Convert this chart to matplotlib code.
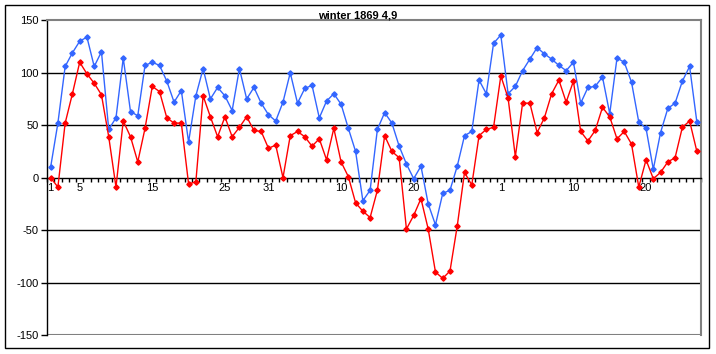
import numpy as np
import matplotlib
matplotlib.use('Agg')
import matplotlib.pyplot as plt
from matplotlib.patches import Rectangle

plt.rcParams['font.family'] = ['Liberation Sans', 'DejaVu Sans']
plt.rcParams['axes.unicode_minus'] = False

# data, one value per day (90 days)
blue = [10, 52, 106, 119, 130, 134, 106, 120, 46, 57,
        114, 63, 59, 107, 110, 107, 92, 72, 83, 34,
        78, 104, 75, 86, 78, 64, 104, 75, 86, 71,
        60, 54, 72, 100, 71, 85, 88, 57, 73, 80,
        70, 47, 25, -22, -12, 46, 62, 52, 30, 13,
        -1, 11, -25, -45, -15, -12, 11, 40, 44, 93,
        80, 128, 136, 80, 87, 102, 113, 124, 118, 113,
        107, 102, 110, 71, 86, 87, 96, 61, 114, 110,
        91, 53, 47, 8, 43, 66, 71, 92, 106, 53]
red = [0, -9, 52, 80, 110, 99, 90, 79, 39, -9,
       54, 39, 15, 47, 87, 82, 57, 52, 52, -6,
       -4, 78, 58, 39, 58, 39, 48, 58, 45, 44,
       28, 31, 0, 40, 44, 39, 30, 37, 17, 47,
       15, 1, -24, -32, -38, -12, 40, 25, 19, -49,
       -36, -20, -49, -90, -96, -89, -46, 5, -7, 40,
       46, 48, 97, 76, 20, 71, 71, 43, 57, 80,
       93, 72, 92, 44, 35, 45, 67, 58, 37, 44,
       32, -9, 17, -1, 5, 15, 19, 48, 54, 25]

label_pos = [0, 4, 14, 24, 30, 40, 50, 62, 72, 82]
label_txt = ['1', '5', '15', '25', '31', '10', '20', '1', '10', '20']

W, H = 716, 354
fig = plt.figure(figsize=(W / 100, H / 100), dpi=100)
fig.patch.set_facecolor('white')

# outer frame
fig.add_artist(Rectangle((5 / W, 1 - 348 / H), 704 / W, 343 / H, transform=fig.transFigure,
                         fill=False, edgecolor='black', lw=1))

left, right, top, bottom = 47, 700.5, 20.3, 335
ax = fig.add_axes([left / W, 1 - bottom / H, (right - left) / W, (bottom - top) / H])

x = np.arange(len(blue))
ax.plot(x, blue, color='#3366ff', lw=1, marker='D', ms=2.7, zorder=3)
ax.plot(x, red, color='#ff0000', lw=1, marker='D', ms=2.7, zorder=4)

ax.set_xlim(-0.5, len(blue) - 0.5)
ax.set_ylim(-150, 150)

for g in [-100, -50, 50, 100]:
    ax.axhline(g, color='black', lw=1, zorder=1)
ax.axhline(-150, color='#808080', lw=1.5, zorder=1)

for s in ['top', 'right']:
    ax.spines[s].set_color('#808080')
    ax.spines[s].set_linewidth(1.5)
ax.spines['left'].set_color('black')
ax.spines['left'].set_linewidth(1)
ax.spines['bottom'].set_position(('data', 0))
ax.spines['bottom'].set_color('black')
ax.spines['bottom'].set_linewidth(1)

ax.set_yticks(np.arange(-150, 151, 50))
ax.tick_params(axis='y', direction='out', length=4, width=1, labelsize=8, pad=2)

ax.set_xticks(label_pos)
ax.set_xticklabels(label_txt)
ax.set_xticks(np.arange(-0.5, len(blue), 1), minor=True)
ax.tick_params(axis='x', which='major', length=0, labelsize=8, pad=4)
ax.tick_params(axis='x', which='minor', direction='out', length=3, width=1)

fig.text(358 / W, 1 - 15 / H, 'winter 1869 4,9', ha='center', va='center',
         fontsize=8, fontweight='bold')

plt.savefig('out.png', dpi=100)
